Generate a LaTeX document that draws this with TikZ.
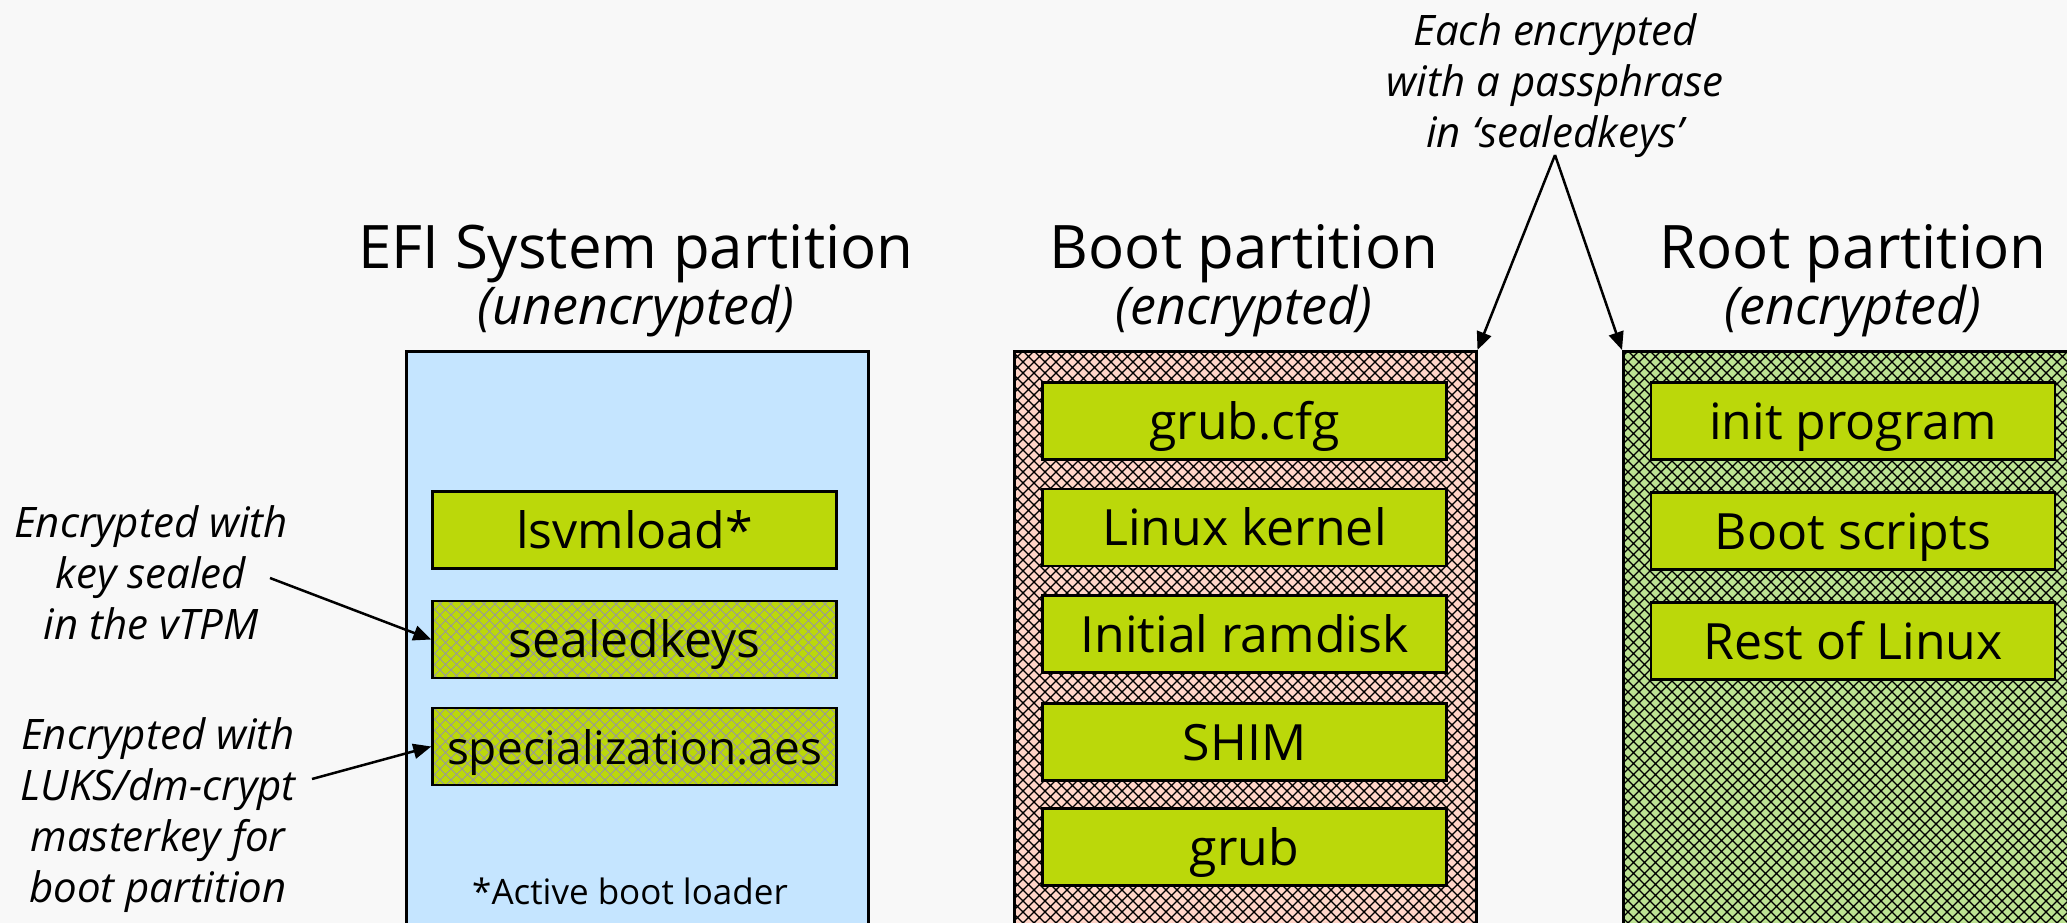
\documentclass[tikz,border=0pt]{standalone}
\usepackage{fontspec}
\setmainfont{Open Sans}
\usetikzlibrary{arrows.meta,patterns}

\definecolor{bgc}{HTML}{F8F8F8}
\definecolor{efiblue}{HTML}{C5E5FF}
\definecolor{bootpink}{HTML}{FFD5C8}
\definecolor{rootgreen}{HTML}{BCE292}
\definecolor{filegreen}{HTML}{BBD80A}
\definecolor{hatchgray}{HTML}{999999}

% diagonal diamond grid, 11pt period
\pgfdeclarepatternformonly{xgridbold}{\pgfqpoint{-1pt}{-1pt}}{\pgfqpoint{12pt}{12pt}}{\pgfqpoint{11pt}{11pt}}{%
  \pgfsetlinewidth{1.3pt}%
  \pgfpathmoveto{\pgfqpoint{-1pt}{-1pt}}\pgfpathlineto{\pgfqpoint{12pt}{12pt}}%
  \pgfpathmoveto{\pgfqpoint{-1pt}{12pt}}\pgfpathlineto{\pgfqpoint{12pt}{-1pt}}%
  \pgfusepath{stroke}}
\pgfdeclarepatternformonly{xgridthin}{\pgfqpoint{-1pt}{-1pt}}{\pgfqpoint{12pt}{12pt}}{\pgfqpoint{11pt}{11pt}}{%
  \pgfsetlinewidth{0.8pt}%
  \pgfpathmoveto{\pgfqpoint{-1pt}{-1pt}}\pgfpathlineto{\pgfqpoint{12pt}{12pt}}%
  \pgfpathmoveto{\pgfqpoint{-1pt}{12pt}}\pgfpathlineto{\pgfqpoint{12pt}{-1pt}}%
  \pgfusepath{stroke}}

\tikzset{
  part/.style={draw=black, line width=2.5pt, minimum width=462pt, minimum height=640pt,
    anchor=north west, inner sep=0pt},
  hatchedpart/.style={part, preaction={fill=#1}, preaction={pattern=xgridbold, pattern color=black}},
  filebox/.style={draw=black, line width=2.4pt, minimum width=404pt, minimum height=77pt,
    inner sep=0pt, text height=36pt, text depth=0pt, font=\fontsize{50}{60}\selectfont},
  file/.style={filebox, fill=filegreen},
  encfile/.style={filebox, preaction={fill=filegreen}, preaction={pattern=xgridthin, pattern color=hatchgray}},
  title/.style={anchor=base, inner sep=0pt, font=\fontsize{60}{72}\selectfont},
  subtitle/.style={anchor=base, inner sep=0pt, font=\fontsize{52}{62}\selectfont\itshape},
  ann/.style={align=center, inner sep=0pt, font=\fontsize{42}{51}\selectfont\itshape},
  arrow/.style={draw=black, line width=2.5pt, -{Triangle[length=18pt,width=15pt]}},
}

\begin{document}
\begin{tikzpicture}[x=1pt, y=-1pt]
  \useasboundingbox (0,0) rectangle (2067,923);
  \clip (0,0) rectangle (2067,923);
  \fill[bgc] (0,0) rectangle (2067,923);

  % partitions
  \node[part, fill=efiblue] (efi) at (405,350) {};
  \node[hatchedpart=bootpink] (boot) at (1013,350) {};
  \node[hatchedpart=rootgreen] (root) at (1622,350) {};

  % partition headings
  \node[title] (efit) at (636,268) {EFI System partition};
  \node[subtitle] (efis) at (636,324) {(unencrypted)};
  \node[title] (boott) at (1244,268) {Boot partition};
  \node[subtitle] (boots) at (1244,324) {(encrypted)};
  \node[title] (roott) at (1853,268) {Root partition};
  \node[subtitle] (roots) at (1853,324) {(encrypted)};

  % EFI system partition contents
  \node[file] (lsvm) at (634.5,530) {lsvmload*};
  \node[encfile] (seal) at (634.5,639.5) {sealedkeys};
  \node[encfile, font=\fontsize{46}{56}\selectfont] (spec) at (634.5,746.5) {specialization.aes};
  \node[anchor=base, inner sep=0pt, font=\fontsize{35}{42}\selectfont] (active) at (630,904) {*Active boot loader};

  % boot partition contents
  \node[file] (cfg) at (1244.5,421) {grub.cfg};
  \node[file] (kern) at (1244.5,527.5) {Linux kernel};
  \node[file] (ramd) at (1244.5,634) {Initial ramdisk};
  \node[file] (shim) at (1244.5,742) {SHIM};
  \node[file] (grub) at (1244.5,847) {grub};

  % root partition contents
  \node[file] (init) at (1853,421) {init program};
  \node[file] (scripts) at (1853,531) {Boot scripts};
  \node[file] (rest) at (1853,641) {Rest of Linux};

  % notes
  \node[ann] (note1) at (151,573) {Encrypted with\\key sealed\\in the vTPM};
  \node[ann] (note2) at (158,815) {Encrypted with\\LUKS/dm-crypt\\masterkey for\\boot partition};
  \node[ann] (note3) at (1555,86) {Each encrypted\\with a passphrase\\in ‘sealedkeys’};

  \coordinate (a1s) at (270,578);
  \coordinate (a2s) at (312,779);
  \coordinate (apex) at (1555,155);

  \draw[arrow] (a1s) -- (seal.west);
  \draw[arrow] (a2s) -- (spec.west);
  \draw[arrow] (apex) -- (boot.north east);
  \draw[arrow] (apex) -- (root.north west);
\end{tikzpicture}
\end{document}
